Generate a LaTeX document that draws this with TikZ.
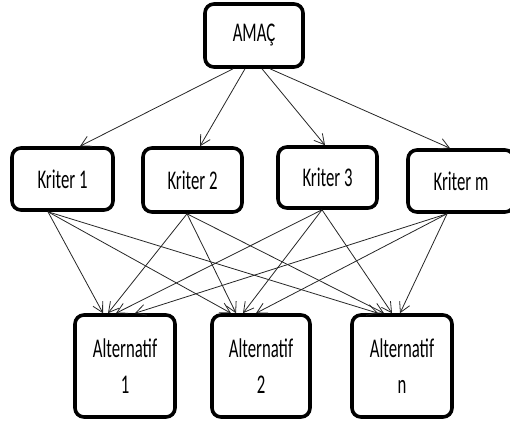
\documentclass[tikz,border=0pt]{standalone}
\usepackage{fontspec}
\setmainfont{Carlito}[FakeStretch=0.62]
\usetikzlibrary{arrows.meta}
\begin{document}
\begin{tikzpicture}[x=1pt,y=-1pt,
  box/.style={draw, line width=3.6pt, rounded corners=9pt, inner sep=0pt, align=center, font=\fontsize{27}{36}\selectfont},
  arr/.style={draw=black!85, line width=0.8pt, -{Straight Barb[length=10pt,width=11pt,line width=0.8pt]}}]
\useasboundingbox (0,0) rectangle (510,423);
\node[box, minimum width=98pt, minimum height=63pt] (amac) at (254,35.5) {AMAÇ};
\node[box, minimum width=101pt, minimum height=62pt] (k1) at (62.5,179) {Kriter 1};
\node[box, minimum width=99pt, minimum height=64pt] (k2) at (192.5,180) {Kriter 2};
\node[box, minimum width=99pt, minimum height=61pt] (k3) at (327.5,177.5) {Kriter 3};
\node[box, minimum width=106pt, minimum height=62pt] (km) at (461,181) {Kriter m};
\node[box, minimum width=100pt, minimum height=102pt] (a1) at (125,366) {Alternatif\\1};
\node[box, minimum width=98pt, minimum height=102pt] (a2) at (261,366) {Alternatif\\2};
\node[box, minimum width=100pt, minimum height=102pt] (an) at (402,366) {Alternatif\\n};
% goal to criteria
\draw[arr] ([xshift=-21pt]amac.south) -- ([xshift=17.5pt]k1.north);
\draw[arr] ([xshift=-9pt]amac.south) -- ([xshift=7.5pt]k2.north);
\draw[arr] ([xshift=8pt]amac.south) -- ([xshift=-2.5pt]k3.north);
\draw[arr] ([xshift=16pt]amac.south) -- ([xshift=-11pt]km.north);
% criteria to alternatives
\foreach \k/\s in {k1/-14.5,k2/-5.5,k3/-5.5,km/-14}{
  \coordinate (\k s) at ([xshift=\s pt]\k.south);
}
\draw[arr] (k1s) -- ([xshift=-22pt]a1.north);
\draw[arr] (k1s) -- ([xshift=-30pt]a2.north);
\draw[arr] (k1s) -- ([xshift=-24pt]an.north);
\draw[arr] (k2s) -- ([xshift=-17pt]a1.north);
\draw[arr] (k2s) -- ([xshift=-25pt]a2.north);
\draw[arr] (k2s) -- ([xshift=-18pt]an.north);
\draw[arr] (k3s) -- ([xshift=-9pt]a1.north);
\draw[arr] (k3s) -- ([xshift=-18pt]a2.north);
\draw[arr] (k3s) -- ([xshift=-10pt]an.north);
\draw[arr] (kms) -- ([xshift=10pt]a1.north);
\draw[arr] (kms) -- ([xshift=-5pt]a2.north);
\draw[arr] (kms) -- ([xshift=-2pt]an.north);
\end{tikzpicture}
\end{document}
